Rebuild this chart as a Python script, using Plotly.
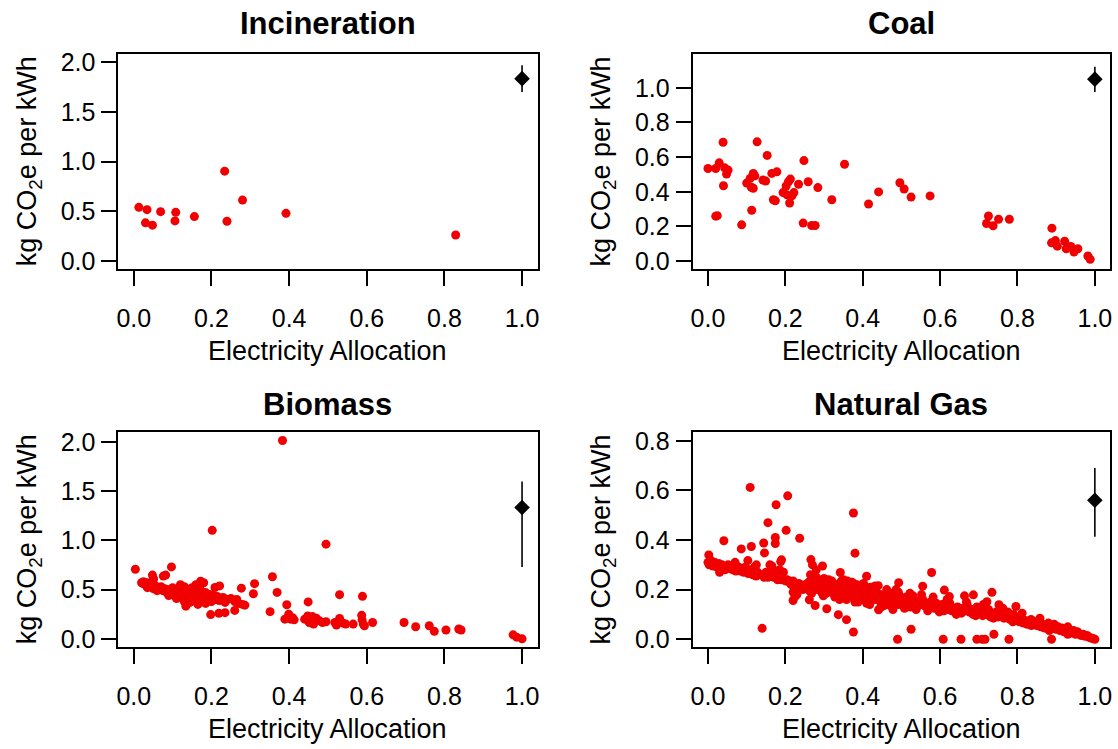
import plotly.graph_objects as go

# ---------------- data ----------------
# Incineration
inc_x = [0.013, 0.034, 0.030, 0.048, 0.069, 0.108, 0.106, 0.156, 0.234, 0.240, 0.280, 0.392, 0.829]
inc_y = [0.540, 0.517, 0.384, 0.361, 0.497, 0.490, 0.404, 0.447, 0.904, 0.400, 0.613, 0.480, 0.262]
inc_ref = [1.0, 1.834, 1.97, 1.70]  # x, value, upper, lower

# Coal
coal_x = [0.000, 0.020, 0.029, 0.039, 0.043, 0.052, 0.048, 0.040, 0.020, 0.087,
          0.113, 0.109, 0.117, 0.121, 0.112, 0.117, 0.127, 0.153, 0.142, 0.149,
          0.165, 0.178, 0.169, 0.174, 0.202, 0.208, 0.213, 0.194, 0.204, 0.211,
          0.217, 0.222, 0.234, 0.248, 0.259, 0.246, 0.268, 0.277, 0.284, 0.320,
          0.353, 0.415, 0.441, 0.496, 0.507, 0.525, 0.574, 0.725, 0.720, 0.737,
          0.751, 0.779, 0.889, 0.888, 0.898, 0.903, 0.922, 0.926, 0.938, 0.946,
          0.956, 0.982, 0.988, 0.024, 0.100]
coal_y = [0.534, 0.534, 0.567, 0.686, 0.538, 0.525, 0.502, 0.435, 0.259, 0.209,
          0.293, 0.477, 0.506, 0.492, 0.426, 0.420, 0.688, 0.610, 0.468, 0.462,
          0.506, 0.515, 0.354, 0.348, 0.433, 0.458, 0.473, 0.395, 0.382, 0.335,
          0.376, 0.395, 0.443, 0.580, 0.458, 0.219, 0.205, 0.205, 0.424, 0.354,
          0.559, 0.329, 0.399, 0.452, 0.416, 0.369, 0.376, 0.260, 0.217, 0.204,
          0.241, 0.241, 0.190, 0.105, 0.118, 0.086, 0.114, 0.071, 0.084, 0.052,
          0.071, 0.029, 0.010, 0.262, 0.450]
coal_ref = [1.0, 1.050, 1.122, 0.976]

# Biomass
bio_x = [0.383, 0.202, 0.495, 0.004, 0.097, 0.048, 0.051, 0.076, 0.082, 0.357,
         0.369, 0.394, 0.351, 0.449, 0.530, 0.589, 0.311, 0.308, 0.277, 0.260,
         0.286, 0.198, 0.219, 0.235, 0.134, 0.209, 0.221, 0.696, 0.726, 0.761,
         0.774, 0.804, 0.837, 0.843, 0.977, 0.986, 1.000,
         0.020, 0.025, 0.030, 0.035, 0.040, 0.045, 0.050, 0.055, 0.060, 0.065,
         0.070, 0.075, 0.080, 0.085, 0.090, 0.095, 0.100, 0.100, 0.105, 0.110,
         0.110, 0.115, 0.120, 0.120, 0.125, 0.130, 0.130, 0.135, 0.140, 0.140,
         0.145, 0.150, 0.150, 0.155, 0.160, 0.160, 0.165, 0.170, 0.170, 0.175,
         0.180, 0.180, 0.185, 0.190, 0.190, 0.195, 0.200, 0.200, 0.205, 0.210,
         0.215, 0.220, 0.225, 0.230, 0.235, 0.240, 0.250, 0.260, 0.265, 0.270,
         0.280, 0.145, 0.165, 0.185, 0.130, 0.090, 0.060, 0.035, 0.025, 0.120,
         0.160, 0.172, 0.118,
         0.389, 0.399, 0.404, 0.413, 0.440, 0.448, 0.452, 0.460, 0.463, 0.468,
         0.478, 0.486, 0.495, 0.518, 0.522, 0.530, 0.539, 0.546, 0.565, 0.587,
         0.588, 0.591, 0.594, 0.615, 0.470, 0.455, 0.409]
bio_y = [2.017, 1.103, 0.963, 0.708, 0.731, 0.648, 0.608, 0.638, 0.648, 0.631,
         0.472, 0.346, 0.276, 0.375, 0.449, 0.432, 0.561, 0.458, 0.515, 0.289,
         0.342, 0.246, 0.259, 0.266, 0.332, 0.522, 0.538, 0.166, 0.123, 0.133,
         0.076, 0.090, 0.100, 0.090, 0.040, 0.017, 0.000,
         0.570, 0.560, 0.550, 0.570, 0.530, 0.550, 0.510, 0.540, 0.520, 0.500,
         0.530, 0.490, 0.510, 0.470, 0.500, 0.480, 0.520, 0.460, 0.440, 0.490,
         0.410, 0.470, 0.500, 0.450, 0.430, 0.480, 0.530, 0.460, 0.440, 0.500,
         0.420, 0.470, 0.520, 0.450, 0.430, 0.490, 0.400, 0.460, 0.510, 0.440,
         0.420, 0.570, 0.470, 0.400, 0.440, 0.450, 0.420, 0.380, 0.440, 0.400,
         0.430, 0.390, 0.410, 0.420, 0.370, 0.400, 0.410, 0.380, 0.400, 0.360,
         0.350, 0.370, 0.350, 0.360, 0.380, 0.440, 0.490, 0.520, 0.580, 0.550,
         0.550, 0.585, 0.430,
         0.200, 0.250, 0.200, 0.193, 0.200, 0.233, 0.166, 0.226, 0.150, 0.200,
         0.183, 0.166, 0.173, 0.166, 0.140, 0.206, 0.159, 0.150, 0.150, 0.239,
         0.193, 0.150, 0.133, 0.166, 0.210, 0.190, 0.215]
bio_ref = [1.0, 1.336, 1.601, 0.731]

# Natural gas
gas_x = [0.109, 0.206, 0.176, 0.155, 0.202, 0.376, 0.041, 0.112, 0.086, 0.144,
         0.146, 0.174, 0.174, 0.237, 0.380, 0.002, 0.578, 0.188, 0.165, 0.266,
         0.296, 0.342, 0.410, 0.440, 0.493, 0.555, 0.734, 0.721, 0.225, 0.220,
         0.262, 0.277, 0.307, 0.337, 0.358, 0.140, 0.376, 0.490, 0.525, 0.608,
         0.654, 0.695, 0.709, 0.716, 0.739, 0.778, 0.888, 0.611, 0.624, 0.663,
         0.686, 0.752, 0.796, 0.441, 0.454,
         0.000, 0.003, 0.006, 0.010, 0.013, 0.017, 0.020, 0.024, 0.028, 0.032,
         0.036, 0.040, 0.044, 0.048, 0.052, 0.056, 0.060, 0.064, 0.068, 0.072,
         0.076, 0.080, 0.084, 0.088, 0.092, 0.096, 0.100, 0.104, 0.108, 0.112,
         0.116, 0.120, 0.124, 0.128, 0.132, 0.070, 0.103, 0.120, 0.125, 0.030,
         0.140, 0.145, 0.150, 0.155, 0.160, 0.165, 0.170, 0.175, 0.180, 0.185,
         0.190, 0.190, 0.195, 0.200, 0.205, 0.210, 0.215, 0.220, 0.225, 0.230,
         0.235, 0.240, 0.245, 0.250, 0.220, 0.230,
         0.255, 0.260, 0.262, 0.265, 0.268, 0.270, 0.272, 0.275, 0.278, 0.280,
         0.283, 0.286, 0.290, 0.293, 0.296, 0.300, 0.303, 0.306, 0.310, 0.313,
         0.316, 0.320, 0.323, 0.326, 0.330, 0.333, 0.336, 0.340, 0.343, 0.346,
         0.350, 0.353, 0.356, 0.360, 0.363, 0.366, 0.370, 0.373, 0.376, 0.380,
         0.383, 0.386, 0.390, 0.393, 0.396, 0.400, 0.403, 0.406, 0.410, 0.413,
         0.416, 0.420, 0.423, 0.426, 0.430, 0.433, 0.436, 0.440, 0.443, 0.446,
         0.450, 0.350, 0.360, 0.370, 0.385, 0.400, 0.420, 0.300, 0.280, 0.320,
         0.340, 0.380, 0.410,
         0.455, 0.460, 0.463, 0.466, 0.470, 0.473, 0.476, 0.480, 0.483, 0.486,
         0.490, 0.493, 0.496, 0.500, 0.503, 0.506, 0.510, 0.513, 0.516, 0.520,
         0.523, 0.526, 0.530, 0.533, 0.536, 0.540, 0.545, 0.550, 0.555, 0.560,
         0.565, 0.570, 0.575, 0.580, 0.585, 0.590, 0.595, 0.600,
         0.605, 0.610, 0.615, 0.620, 0.625, 0.630, 0.635, 0.640, 0.645, 0.650,
         0.655, 0.660, 0.665, 0.670, 0.675, 0.680, 0.685, 0.690, 0.695, 0.700,
         0.705, 0.710, 0.715, 0.720, 0.725, 0.730, 0.735, 0.740, 0.745, 0.750,
         0.755, 0.760, 0.765, 0.770, 0.775, 0.780, 0.785, 0.790, 0.795, 0.800,
         0.805, 0.810, 0.815, 0.820, 0.825, 0.830, 0.835, 0.840, 0.845, 0.850,
         0.855, 0.860, 0.865, 0.870, 0.875, 0.880, 0.885, 0.890, 0.895, 0.900,
         0.905, 0.910, 0.915, 0.920, 0.925, 0.930, 0.935, 0.940, 0.945, 0.950,
         0.955, 0.960, 0.965, 0.970, 0.975, 0.980, 0.985, 0.990, 0.995, 1.000,
         0.930,
         0.268, 0.282, 0.298, 0.312, 0.328, 0.345, 0.358, 0.372, 0.388, 0.402,
         0.418, 0.432, 0.447, 0.462, 0.478, 0.492, 0.508, 0.522, 0.538, 0.552,
         0.568, 0.582, 0.598, 0.618, 0.642, 0.668, 0.692, 0.712, 0.738, 0.762,
         0.788, 0.812, 0.836, 0.858, 0.882]
gas_y = [0.612, 0.578, 0.542, 0.470, 0.439, 0.509, 0.397, 0.374, 0.364, 0.388,
         0.348, 0.410, 0.386, 0.407, 0.347, 0.340, 0.269, 0.313, 0.295, 0.321,
         0.295, 0.269, 0.254, 0.216, 0.228, 0.214, 0.189, 0.151, 0.172, 0.156,
         0.159, 0.136, 0.123, 0.099, 0.079, 0.044, 0.029, 0.000, 0.040, 0.000,
         0.000, 0.000, 0.000, 0.000, 0.020, 0.000, 0.000, 0.198, 0.172, 0.175,
         0.179, 0.139, 0.132, 0.119, 0.135,
         0.310, 0.300, 0.320, 0.305, 0.295, 0.310, 0.300, 0.290, 0.305, 0.285,
         0.300, 0.295, 0.280, 0.290, 0.300, 0.285, 0.290, 0.280, 0.295, 0.275,
         0.285, 0.290, 0.275, 0.280, 0.270, 0.290, 0.275, 0.265, 0.280, 0.270,
         0.260, 0.275, 0.255, 0.270, 0.260, 0.310, 0.317, 0.290, 0.300, 0.270,
         0.260, 0.250, 0.270, 0.250, 0.300, 0.280, 0.250, 0.260, 0.240, 0.280,
         0.320, 0.240, 0.270, 0.235, 0.240, 0.230, 0.220, 0.235, 0.220, 0.210,
         0.225, 0.210, 0.200, 0.220, 0.190, 0.180,
         0.210, 0.230, 0.195, 0.260, 0.220, 0.300, 0.200, 0.240, 0.215, 0.280,
         0.200, 0.225, 0.210, 0.190, 0.230, 0.200, 0.215, 0.185, 0.210, 0.200,
         0.225, 0.195, 0.210, 0.180, 0.200, 0.215, 0.190, 0.225, 0.200, 0.180,
         0.210, 0.195, 0.220, 0.185, 0.200, 0.170, 0.210, 0.190, 0.225, 0.180,
         0.200, 0.165, 0.195, 0.210, 0.175, 0.190, 0.160, 0.200, 0.180, 0.195,
         0.165, 0.185, 0.170, 0.200, 0.175, 0.160, 0.190, 0.170, 0.155, 0.180,
         0.165, 0.240, 0.235, 0.230, 0.220, 0.215, 0.210, 0.245, 0.250, 0.235,
         0.160, 0.150, 0.145,
         0.150, 0.175, 0.140, 0.160, 0.185, 0.150, 0.130, 0.170, 0.155, 0.200,
         0.160, 0.140, 0.175, 0.150, 0.165, 0.135, 0.155, 0.170, 0.145, 0.160,
         0.130, 0.150, 0.175, 0.140, 0.155, 0.130, 0.150, 0.140, 0.160, 0.135,
         0.145, 0.130, 0.150, 0.140, 0.125, 0.145, 0.135, 0.120,
         0.140, 0.115, 0.130, 0.120, 0.145, 0.115, 0.125, 0.110, 0.130, 0.120,
         0.105, 0.125, 0.115, 0.140, 0.110, 0.120, 0.100, 0.115, 0.130, 0.105,
         0.120, 0.095, 0.110, 0.100, 0.120, 0.090, 0.105, 0.095, 0.110, 0.090,
         0.100, 0.120, 0.085, 0.095, 0.110, 0.080, 0.090, 0.100, 0.075, 0.085,
         0.070, 0.080, 0.065, 0.075, 0.060, 0.070, 0.080, 0.060, 0.070, 0.055,
         0.065, 0.050, 0.060, 0.045, 0.055, 0.065, 0.040, 0.050, 0.060, 0.040,
         0.050, 0.035, 0.045, 0.030, 0.040, 0.050, 0.030, 0.025, 0.035, 0.020,
         0.030, 0.020, 0.015, 0.020, 0.012, 0.015, 0.008, 0.005, 0.003, 0.000,
         0.020,
         0.185, 0.230, 0.175, 0.240, 0.170, 0.235, 0.160, 0.230, 0.150, 0.225,
         0.140, 0.215, 0.130, 0.200, 0.120, 0.190, 0.125, 0.185, 0.120, 0.180,
         0.115, 0.170, 0.110, 0.160, 0.100, 0.150, 0.095, 0.140, 0.085, 0.125,
         0.070, 0.105, 0.055, 0.085, 0.035]
gas_ref = [1.0, 0.560, 0.690, 0.413]

x_ticks = [0.0, 0.2, 0.4, 0.6, 0.8, 1.0]

# ---------------- layout helpers ----------------
W, H = 1118, 749
FONT = "Liberation Sans, Arial, sans-serif"

def px(v):
    return v / W

def py(v):
    return 1 - v / H

# plot-region boxes in pixels: (left, right, top, bottom)
cols = [(116.7, 537.5), (693.0, 1112.3)]
rows = [(49.0, 267.3), (433.3, 651.6)]
title_gap = [31, 28]

panels = [
    dict(title="Incineration", x=inc_x, y=inc_y, ref=inc_ref,
         yrange=[-0.08, 2.08], yticks=[0.0, 0.5, 1.0, 1.5, 2.0], col=0, row=0),
    dict(title="Coal", x=coal_x, y=coal_y, ref=coal_ref,
         yrange=[-0.046, 1.194], yticks=[0.0, 0.2, 0.4, 0.6, 0.8, 1.0], col=1, row=0),
    dict(title="Biomass", x=bio_x, y=bio_y, ref=bio_ref,
         yrange=[-0.085, 2.1], yticks=[0.0, 0.5, 1.0, 1.5, 2.0], col=0, row=1),
    dict(title="Natural Gas", x=gas_x, y=gas_y, ref=gas_ref,
         yrange=[-0.032, 0.834], yticks=[0.0, 0.2, 0.4, 0.6, 0.8], col=1, row=1),
]

fig = go.Figure()
annotations = []
layout_axes = {}

for i, p in enumerate(panels, start=1):
    sfx = "" if i == 1 else str(i)
    xa, ya = "x" + sfx, "y" + sfx
    l, r = cols[p["col"]]
    t, b = rows[p["row"]]

    fig.add_trace(go.Scatter(
        x=p["x"], y=p["y"], mode="markers", xaxis=xa, yaxis=ya,
        marker=dict(color="#f00000", size=9, line=dict(width=0)),
        showlegend=False, cliponaxis=False,
    ))
    rx, rv, rhi, rlo = p["ref"]
    fig.add_trace(go.Scatter(
        x=[rx], y=[rv], mode="markers", xaxis=xa, yaxis=ya,
        marker=dict(color="black", size=12, symbol="diamond", line=dict(width=0)),
        error_y=dict(type="data", symmetric=False, array=[rhi - rv],
                     arrayminus=[rv - rlo], width=0, thickness=1.6, color="black"),
        showlegend=False, cliponaxis=False,
    ))

    common = dict(showline=True, mirror=True, linecolor="black", linewidth=1.6,
                  ticks="outside", ticklen=15, tickwidth=1.6, tickcolor="black",
                  showgrid=False, zeroline=False,
                  tickfont=dict(family=FONT, size=25, color="black"))
    layout_axes["xaxis" + sfx] = dict(
        domain=[px(l), px(r)], anchor=ya, range=[-0.04, 1.04],
        tickvals=x_ticks, ticktext=["%.1f" % v for v in x_ticks],
        ticklabelstandoff=11, **common)
    layout_axes["yaxis" + sfx] = dict(
        domain=[py(b), py(t)], anchor=xa, range=p["yrange"],
        tickvals=p["yticks"], ticktext=["%.1f" % v for v in p["yticks"]],
        ticklabelstandoff=1, **common)

    cx = (l + r) / 2
    annotations.append(dict(
        text="<b>%s</b>" % p["title"], x=px(cx), y=py(t - title_gap[p["row"]]),
        xref="paper", yref="paper", xanchor="center", yanchor="middle",
        showarrow=False, font=dict(family=FONT, size=31, color="black")))
    annotations.append(dict(
        text="Electricity Allocation", x=px(cx), y=py(b + 83),
        xref="paper", yref="paper", xanchor="center", yanchor="middle",
        showarrow=False, font=dict(family=FONT, size=27, color="black")))
    annotations.append(dict(
        text="kg CO<sub>2</sub>e per kWh", x=px(l - 90), y=py((t + b) / 2),
        xref="paper", yref="paper", xanchor="center", yanchor="middle",
        textangle=-90, showarrow=False,
        font=dict(family=FONT, size=27, color="black")))

fig.update_layout(
    width=W, height=H,
    margin=dict(l=0, r=0, t=0, b=0),
    paper_bgcolor="white", plot_bgcolor="white",
    annotations=annotations,
    **layout_axes,
)

fig.write_html("out.html")
